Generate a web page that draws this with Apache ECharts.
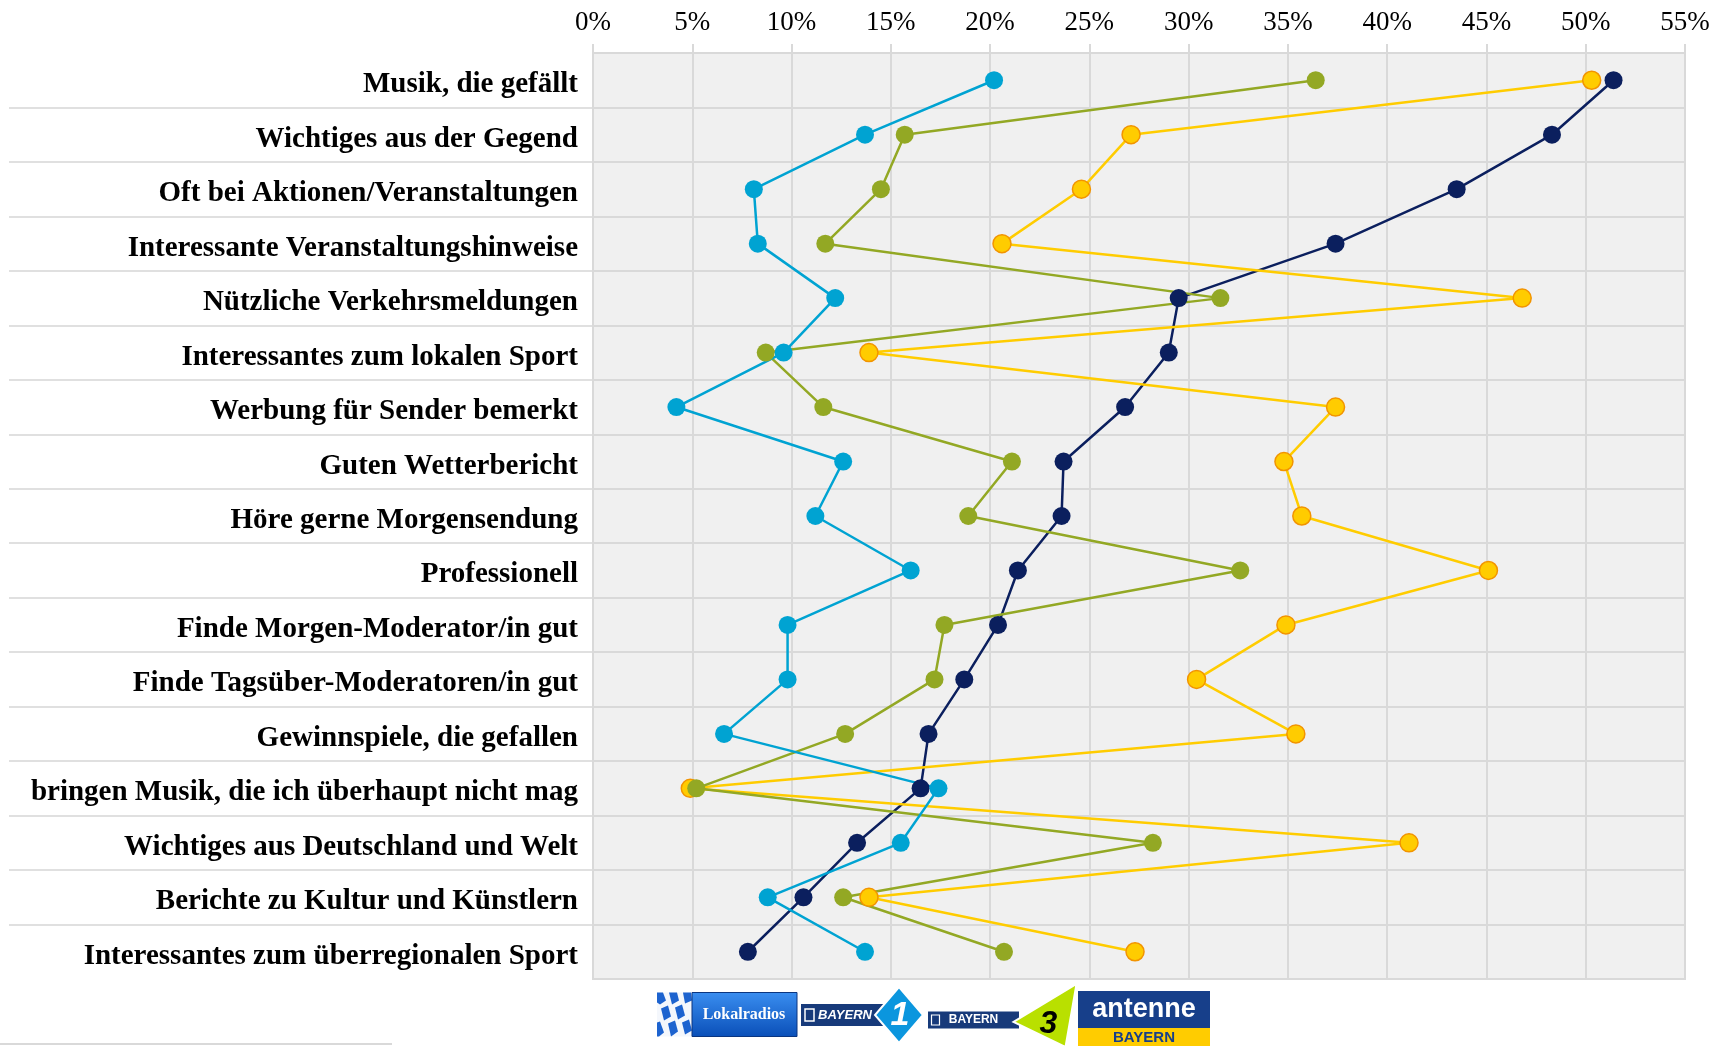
<!DOCTYPE html>
<html>
<head>
<meta charset="utf-8">
<script src="https://cdn.jsdelivr.net/npm/echarts@6/dist/echarts.min.js"></script>
<style>
html,body{margin:0;padding:0;background:#fff;}
#chart{width:1731px;height:1046px;}
</style>
</head>
<body>
<div id="chart"></div>
<script>
const categories = [
  'Musik, die gefällt',
  'Wichtiges aus der Gegend',
  'Oft bei Aktionen/Veranstaltungen',
  'Interessante Veranstaltungshinweise',
  'Nützliche Verkehrsmeldungen',
  'Interessantes zum lokalen Sport',
  'Werbung für Sender bemerkt',
  'Guten Wetterbericht',
  'Höre gerne Morgensendung',
  'Professionell',
  'Finde Morgen-Moderator/in gut',
  'Finde Tagsüber-Moderatoren/in gut',
  'Gewinnspiele, die gefallen',
  'bringen Musik, die ich überhaupt nicht mag',
  'Wichtiges aus Deutschland und Welt',
  'Berichte zu Kultur und Künstlern',
  'Interessantes zum überregionalen Sport'
];
const xTicks = [0, 5, 10, 15, 20, 25, 30, 35, 40, 45, 50, 55];
const lokalradios = [51.4, 48.3, 43.5, 37.4, 29.5, 29.0, 26.8, 23.7, 23.6, 21.4, 20.4, 18.7, 16.9, 16.5, 13.3, 10.6, 7.8];
const antenneBayern = [50.3, 27.1, 24.6, 20.6, 46.8, 13.9, 37.4, 34.8, 35.7, 45.1, 34.9, 30.4, 35.4, 4.9, 41.1, 13.9, 27.3];
const bayern3 = [36.4, 15.7, 14.5, 11.7, 31.6, 8.7, 11.6, 21.1, 18.9, 32.6, 17.7, 17.2, 12.7, 5.2, 28.2, 12.6, 20.7];
const bayern1 = [20.2, 13.7, 8.1, 8.3, 12.2, 9.6, 4.2, 12.6, 11.2, 16.0, 9.8, 9.8, 6.6, 17.4, 15.5, 8.8, 13.7];

const GRID = '#d9d9d9';
const SERIF = '"Liberation Serif", "DejaVu Serif", serif';
const SANS = '"Liberation Sans", "DejaVu Sans", sans-serif';

function lineSeries(name, data, color, border) {
  return {
    name: name, type: 'line', data: data,
    xAxisIndex: 0, yAxisIndex: 0,
    symbol: 'circle', symbolSize: 18,
    lineStyle: {color: color, width: 2.5},
    itemStyle: {color: color, borderColor: border || color, borderWidth: border ? 1.5 : 0},
    emphasis: {disabled: true},
    z: 3
  };
}

const chart = echarts.init(document.getElementById('chart'), null, {renderer: 'canvas'});
chart.setOption({
  animation: false,
  backgroundColor: '#ffffff',
  grid: [
    {left: 593, right: 46, top: 53, bottom: 67, show: true, backgroundColor: '#f0f0f0', borderColor: GRID, borderWidth: 2},
    {left: 9, width: 584, top: 53, bottom: 67, show: false}
  ],
  xAxis: [
    {
      type: 'value', gridIndex: 0, position: 'top',
      min: xTicks[0], max: xTicks[xTicks.length - 1], interval: 5,
      axisLine: {show: true, lineStyle: {color: GRID, width: 2}},
      axisTick: {show: true, length: 9, lineStyle: {color: GRID, width: 2}},
      splitLine: {show: true, lineStyle: {color: GRID, width: 2}},
      axisLabel: {formatter: '{value}%', fontFamily: SERIF, fontSize: 27, color: '#000', margin: 17}
    },
    {type: 'value', gridIndex: 1, show: false, min: 0, max: 1}
  ],
  yAxis: [
    {
      type: 'category', gridIndex: 0, inverse: true, data: categories,
      axisLine: {show: true, lineStyle: {color: GRID, width: 2}},
      axisTick: {show: false},
      splitLine: {show: true, lineStyle: {color: GRID, width: 2}},
      axisLabel: {fontFamily: SERIF, fontWeight: 'bold', fontSize: 29, color: '#000', margin: 15, verticalAlign: 'top', lineHeight: 9}
    },
    {
      type: 'category', gridIndex: 1, inverse: true, data: categories,
      axisLine: {show: false}, axisTick: {show: false}, axisLabel: {show: false},
      splitLine: {show: true, showMinLine: false, showMaxLine: false, lineStyle: {color: '#e0e0e0', width: 2}}
    }
  ],
  series: [
    lineSeries('Lokalradios', lokalradios, '#0b1f5e'),
    lineSeries('antenne BAYERN', antenneBayern, '#ffcc00', '#f29400'),
    lineSeries('BAYERN 3', bayern3, '#93a824'),
    lineSeries('BAYERN 1', bayern1, '#00a3d2')
  ],
  graphic: [
    {type: 'line', shape: {x1: 0, y1: 1044, x2: 392, y2: 1044}, style: {stroke: '#d9d9d9', lineWidth: 2}},
    // Lokalradios logo
    {type: 'group', left: 657, top: 992, children: [
      {type: 'rect', shape: {x: 0, y: 0, width: 36, height: 44}, style: {fill: '#f4f7fc'}},
      {type: 'polygon', shape: {points: [[0,0],[6,0],[9,8],[3,12],[0,10]]}, style: {fill: '#1d63cf'}},
      {type: 'polygon', shape: {points: [[12,0],[20,0],[22,8],[15,12]]}, style: {fill: '#1d63cf'}},
      {type: 'polygon', shape: {points: [[26,0],[34,0],[35,8],[28,11]]}, style: {fill: '#1d63cf'}},
      {type: 'polygon', shape: {points: [[4,16],[11,13],[14,24],[7,28]]}, style: {fill: '#1d63cf'}},
      {type: 'polygon', shape: {points: [[18,15],[25,12],[28,23],[21,27]]}, style: {fill: '#1d63cf'}},
      {type: 'polygon', shape: {points: [[0,30],[3,29],[7,40],[2,44],[0,44]]}, style: {fill: '#1d63cf'}},
      {type: 'polygon', shape: {points: [[11,31],[18,28],[21,39],[14,44]]}, style: {fill: '#1d63cf'}},
      {type: 'polygon', shape: {points: [[25,30],[32,27],[35,38],[28,42]]}, style: {fill: '#1d63cf'}},
      {type: 'rect', shape: {x: 35, y: 0, width: 105, height: 44}, style: {fill: {type: 'linear', x: 0, y: 0, x2: 0, y2: 1, colorStops: [{offset: 0, color: '#3a8ef0'}, {offset: 1, color: '#0a4fb8'}]}, stroke: '#0a3580', lineWidth: 1}},
      {type: 'text', x: 87, y: 22, style: {text: 'Lokalradios', fill: '#fff', font: 'bold 16px ' + SERIF, align: 'center', verticalAlign: 'middle'}}
    ]},
    // BAYERN 1 logo
    {type: 'group', left: 801, top: 986, children: [
      {type: 'rect', shape: {x: 0, y: 17, width: 84, height: 22}, style: {fill: '#173a7a'}},
      {type: 'rect', shape: {x: 4, y: 22, width: 9, height: 12}, style: {fill: 'none', stroke: '#fff', lineWidth: 1.5}},
      {type: 'text', x: 44, y: 28, style: {text: 'BAYERN', fill: '#fff', font: 'italic bold 13px ' + SANS, align: 'center', verticalAlign: 'middle'}},
      {type: 'polygon', shape: {points: [[98,0],[122,28],[98,56],[74,28]]}, style: {fill: '#0b96de', stroke: '#fff', lineWidth: 2}},
      {type: 'text', x: 99, y: 29, style: {text: '1', fill: '#fff', font: 'italic bold 34px ' + SANS, align: 'center', verticalAlign: 'middle'}}
    ]},
    // BAYERN 3 logo
    {type: 'group', left: 927, top: 983, children: [
      {type: 'rect', shape: {x: 0, y: 27, width: 92, height: 18}, style: {fill: '#173a7a', stroke: '#fff', lineWidth: 1}},
      {type: 'rect', shape: {x: 4, y: 31, width: 8, height: 10}, style: {fill: 'none', stroke: '#fff', lineWidth: 1.2}},
      {type: 'text', x: 46, y: 36, style: {text: 'BAYERN', fill: '#fff', font: 'bold 12px ' + SANS, align: 'center', verticalAlign: 'middle'}},
      {type: 'polygon', shape: {points: [[149,0],[86,38],[138,63]]}, style: {fill: '#b9e000', stroke: '#fff', lineWidth: 2}},
      {type: 'text', x: 121, y: 40, style: {text: '3', fill: '#000', font: 'italic bold 32px ' + SANS, align: 'center', verticalAlign: 'middle'}}
    ]},
    // antenne BAYERN logo
    {type: 'group', left: 1078, top: 991, children: [
      {type: 'rect', shape: {x: 0, y: 0, width: 132, height: 37}, style: {fill: '#173f8a'}},
      {type: 'rect', shape: {x: 0, y: 37, width: 132, height: 18}, style: {fill: '#ffcc00'}},
      {type: 'text', x: 66, y: 19, style: {text: 'antenne', fill: '#fff', font: 'bold 27px ' + SANS, align: 'center', verticalAlign: 'middle'}},
      {type: 'text', x: 66, y: 47, style: {text: 'BAYERN', fill: '#173f8a', font: 'bold 15px ' + SANS, align: 'center', verticalAlign: 'middle'}}
    ]}
  ]
});
</script>
</body>
</html>
